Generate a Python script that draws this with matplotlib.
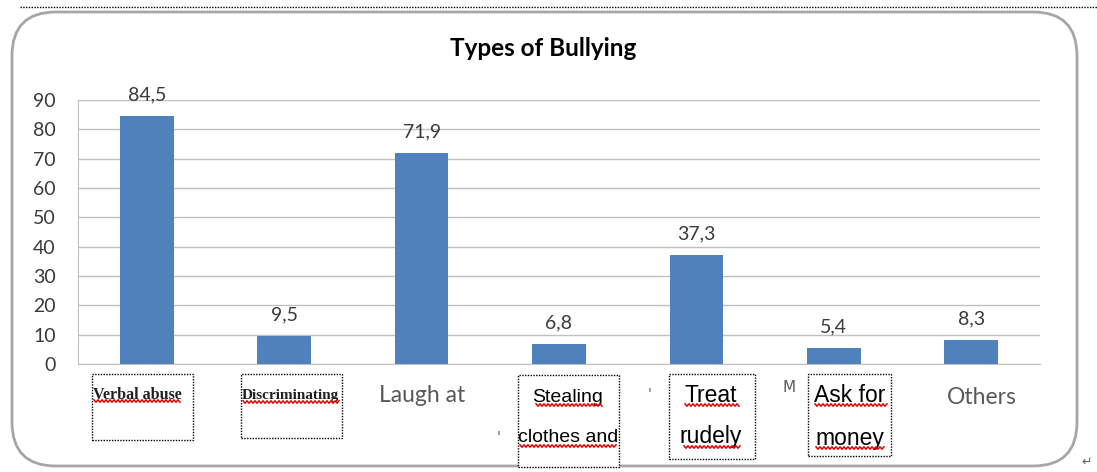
import numpy as np
import matplotlib
matplotlib.use("Agg")
import matplotlib.pyplot as plt
from matplotlib.patches import FancyBboxPatch, Rectangle
from matplotlib.lines import Line2D

categories = ["Verbal abuse", "Discriminating", "Laugh at", "Stealing clothes and",
              "Treat rudely", "Ask for money", "Others"]
values = [84.5, 9.5, 71.9, 6.8, 37.3, 5.4, 8.3]
value_labels = ["84,5", "9,5", "71,9", "6,8", "37,3", "5,4", "8,3"]
yticks = list(range(0, 100, 10))

W, H = 1097, 472
BAR = "#4F81BD"
GRID = "#C0C0C0"
TXT = "#3A3A3A"


def px(x, y):
    return x / W, 1 - y / H


fig = plt.figure(figsize=(W / 100, H / 100), dpi=100)
fig.patch.set_facecolor("white")

# outer chart frame
x0, y0 = px(12, 466)
x1, y1 = px(1077, 12)
fig.patches.append(FancyBboxPatch((x0, y0), x1 - x0, y1 - y0,
                                  boxstyle="round,pad=0,rounding_size=0.04",
                                  transform=fig.transFigure, fill=False,
                                  edgecolor="#A6A6A6", lw=2, mutation_aspect=W / H))
a, b = px(20, 7)
c, _ = px(1097, 7)
fig.lines.append(Line2D([a, c], [b, b], transform=fig.transFigure,
                        color="black", lw=1, ls=(0, (1, 1))))

l, btm = px(78, 364)
r, top = px(1040, 100)
ax = fig.add_axes([l, btm, r - l, top - btm])
x = np.arange(len(values))
ax.bar(x, values, width=0.39, color=BAR, zorder=3)
ax.set_xlim(-0.5, len(values) - 0.5)
ax.set_ylim(0, 90)
ax.set_yticks(yticks)
ax.set_yticklabels([str(t) for t in yticks], fontsize=14, color=TXT, family="Lato")
ax.set_xticks([])
ax.grid(axis="y", color=GRID, lw=1, zorder=0)
ax.tick_params(axis="y", length=0, pad=16)
for s in ["top", "right"]:
    ax.spines[s].set_visible(False)
ax.spines["left"].set_color(GRID)
ax.spines["bottom"].set_color(GRID)
for xi, v, lab in zip(x, values, value_labels):
    ax.annotate(lab, (xi, v), xytext=(0, 9), textcoords="offset points",
                ha="center", va="bottom", fontsize=14, color=TXT, family="Lato")

fig.text(*px(543, 48), "Types of Bullying", ha="center", va="center",
         fontsize=17.5, fontweight="bold", color="black", family="Lato")


def squiggle(xa, xb, y):
    xs = np.arange(xa, xb, 2.0)
    ys = y + np.where(np.arange(len(xs)) % 2 == 0, -1.2, 1.2)
    fig.lines.append(Line2D(xs / W, 1 - ys / H, transform=fig.transFigure,
                            color="#E00000", lw=1.1, zorder=7))


def box(xa, ya, xb, yb):
    p0 = px(xa, yb)
    p1 = px(xb, ya)
    fig.patches.append(Rectangle(p0, p1[0] - p0[0], p1[1] - p0[1], transform=fig.transFigure,
                                 fill=True, facecolor="white", edgecolor="black",
                                 lw=1, ls=(0, (1, 1)), zorder=5))


# category labels the way they sit in the original document
fig.text(*px(422, 395), categories[2], ha="center", va="center", fontsize=16.5,
         color="#595959", family="Lato")
fig.text(*px(982, 398), categories[6], ha="center", va="center", fontsize=16.5,
         color="#595959", family="Lato")
fig.text(*px(650, 394), "'", ha="center", va="center", fontsize=10, color="#595959")
fig.text(*px(499, 437), "'", ha="center", va="center", fontsize=10, color="#595959")
fig.text(*px(789, 388), "M", ha="center", va="center", fontsize=11, color="#595959")

box(92, 374, 193, 440)
fig.text(*px(93, 395), "Verbal abuse", ha="left", va="center", fontsize=11.5,
         family="Liberation Serif", fontweight="bold", color="#202020", zorder=6)
squiggle(94, 182, 401)

box(241, 374, 342, 438)
fig.text(*px(242, 395), "Discriminating", ha="left", va="center", fontsize=11,
         family="Liberation Serif", fontweight="bold", color="#202020", zorder=6)
squiggle(243, 340, 402)

box(518, 375, 619, 467)
fig.text(*px(568, 397), "Stealing", ha="center", va="center", fontsize=14,
         family="Liberation Sans", color="black", zorder=6)
fig.text(*px(568, 438), "clothes and", ha="center", va="center", fontsize=14,
         family="Liberation Sans", color="black", zorder=6)
squiggle(536, 604, 405)
squiggle(520, 617, 446)

box(669, 374, 755, 459)
fig.text(*px(711, 396), "Treat", ha="center", va="center", fontsize=16.5,
         family="Liberation Sans", color="black", zorder=6)
fig.text(*px(711, 437), "rudely", ha="center", va="center", fontsize=16.5,
         family="Liberation Sans", color="black", zorder=6)
squiggle(685, 740, 405)
squiggle(684, 742, 447)

box(808, 374, 891, 456)
fig.text(*px(850, 396), "Ask for", ha="center", va="center", fontsize=16.5,
         family="Liberation Sans", color="black", zorder=6)
fig.text(*px(850, 438), "money", ha="center", va="center", fontsize=16.5,
         family="Liberation Sans", color="black", zorder=6)
squiggle(815, 888, 405)
squiggle(816, 886, 448)

fig.text(*px(1087, 462), "\u21b5", ha="center", va="center", fontsize=9, color="#606060")

fig.savefig("out.png", dpi=100, facecolor="white")
